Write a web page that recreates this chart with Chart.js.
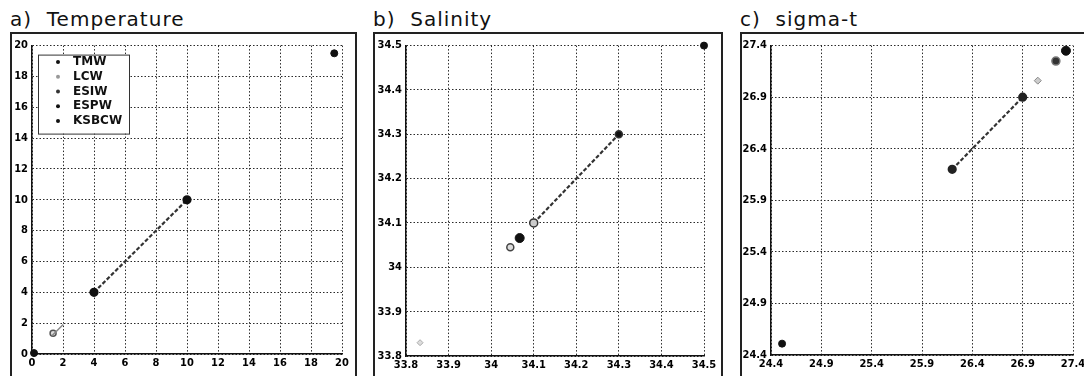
<!DOCTYPE html>
<html>
<head>
<meta charset="utf-8">
<script src="https://cdn.jsdelivr.net/npm/chart.js"></script>
<style>
body { margin: 0; width: 1084px; height: 376px; overflow: hidden; background: #fff; position: relative; font-family: "DejaVu Sans", sans-serif; }
.title { position: absolute; top: 9px; font-size: 20px; line-height: 20px; letter-spacing: 1px; color: #111; white-space: pre; }
.frame { position: absolute; top: 32px; height: 360px; box-sizing: border-box; border: 2px solid #222; }
canvas { position: absolute; }
</style>
</head>
<body>
<div class="title" style="left:10px">a)  Temperature</div>
<div class="title" style="left:373px">b)  Salinity</div>
<div class="title" style="left:740px">c)  sigma-t</div>
<div class="frame" style="left:10px; width:347px"></div>
<div class="frame" style="left:373px; width:350px"></div>
<div class="frame" style="left:740px; width:360px"></div>
<canvas id="tempChart" width="342" height="341" style="left:12px; top:35px"></canvas>
<canvas id="salChart" width="345" height="341" style="left:375px; top:35px"></canvas>
<canvas id="sigChart" width="360" height="341" style="left:742px; top:35px"></canvas>
<script>
var waterMasses = ["TMW", "LCW", "ESIW", "ESPW", "KSBCW"];

// tick labels for each panel
var tempTicks = [0, 2, 4, 6, 8, 10, 12, 14, 16, 18, 20];
var salTicks = [33.8, 33.9, 34.0, 34.1, 34.2, 34.3, 34.4, 34.5];
var sigTicks = [24.4, 24.9, 25.4, 25.9, 26.4, 26.9, 27.4];

// temperature (x = observed, y = model)
var tempTMW = [{x: 19.5, y: 19.5}];
var tempLCW = [{x: 1.65, y: 1.55}];
var tempESIW = [{x: 1.36, y: 1.35}];
var tempESPW = [{x: 0.13, y: 0.06}];
var tempKSBCW = [{x: 4, y: 4}, {x: 10, y: 10}];

// salinity
var salTMW = [{x: 34.5, y: 34.5}];
var salLCW = [{x: 33.833, y: 33.83}];
var salESIW = [{x: 34.045, y: 34.045}];
var salESPW = [{x: 34.067, y: 34.066}];
var salKSBCW = [{x: 34.1, y: 34.1}, {x: 34.3, y: 34.3}];

// sigma-t
var sigTMW = [{x: 24.51, y: 24.51}];
var sigLCW = [{x: 27.05, y: 27.06}];
var sigESIW = [{x: 27.23, y: 27.25}];
var sigESPW = [{x: 27.33, y: 27.35}];
var sigKSBCW = [{x: 26.2, y: 26.2}, {x: 26.9, y: 26.9}];

var tickFont = {family: "'DejaVu Sans Condensed', 'DejaVu Sans', sans-serif", size: 11, weight: "bold"};

function fmt(v) {
  return String(Number(v.toFixed(1)));
}

function axis(ticks, isX, size, pad) {
  return {
    type: "linear",
    min: ticks[0],
    max: ticks[ticks.length - 1],
    afterBuildTicks: function(s) {
      s.ticks = ticks.map(function(v) { return {value: v}; });
    },
    afterFit: function(s) {
      if (isX) s.height = size; else s.width = size;
    },
    ticks: {
      padding: pad,
      color: "#000",
      font: tickFont,
      autoSkip: false,
      maxRotation: 0,
      callback: function(v) { return fmt(v); }
    },
    grid: {color: "#2a2a2a", lineWidth: 1, drawTicks: false},
    border: {display: true, color: "#111", width: 1.5, dash: [1.5, 2]}
  };
}

function sets(tmw, lcw, esiw, espw, ksbcw, looks) {
  var base = [
    {label: waterMasses[0], data: tmw},
    {label: waterMasses[1], data: lcw},
    {label: waterMasses[2], data: esiw},
    {label: waterMasses[3], data: espw},
    {label: waterMasses[4], data: ksbcw}
  ];
  return base.map(function(d, i) {
    return Object.assign({clip: false, showLine: false}, d, looks[i]);
  });
}

var ksbcwLine = {showLine: true, borderColor: "#333", borderWidth: 2.2, borderDash: [4, 2]};

// draws the small legend box in the upper left of the plot area
var insideLegend = {
  id: "insideLegend",
  afterDraw: function(chart) {
    var ctx = chart.ctx, a = chart.chartArea;
    var x = a.left + 6, y = a.top + 9, w = 91, h = 79;
    var dots = ["#111", "#999", "#333", "#111", "#111"];
    ctx.save();
    ctx.fillStyle = "#fff";
    ctx.fillRect(x, y, w, h);
    ctx.strokeStyle = "#333";
    ctx.lineWidth = 1;
    ctx.strokeRect(x + 0.5, y + 0.5, w, h);
    ctx.font = "bold 12px 'DejaVu Sans'";
    ctx.textBaseline = "middle";
    chart.data.datasets.forEach(function(ds, i) {
      var cy = y + 7.5 + i * 14.7;
      ctx.fillStyle = dots[i];
      ctx.beginPath();
      ctx.arc(x + 20, cy, 2, 0, Math.PI * 2);
      ctx.fill();
      ctx.fillStyle = "#111";
      ctx.fillText(ds.label, x + 35, cy);
    });
    ctx.restore();
  }
};

function makeChart(id, datasets, ticks, yw, ypad, xh, padTop, padRight, plugins) {
  return new Chart(id, {
    type: "scatter",
    data: {datasets: datasets},
    options: {
      responsive: false,
      animation: false,
      layout: {padding: {left: 0, top: padTop, right: padRight, bottom: 0}},
      plugins: {legend: {display: false}, tooltip: {enabled: false}},
      scales: {
        x: axis(ticks, true, xh, 3),
        y: axis(ticks, false, yw, ypad)
      }
    },
    plugins: plugins || []
  });
}

makeChart("tempChart", sets(tempTMW, tempLCW, tempESIW, tempESPW, tempKSBCW, [
  {pointRadius: 3.5, backgroundColor: "#111", borderColor: "#111"},
  {pointStyle: "line", rotation: -45, pointRadius: 8, borderColor: "#888", borderWidth: 1.5},
  {pointRadius: 3, backgroundColor: "#ddd", borderColor: "#555", borderWidth: 1.5},
  {pointRadius: 3.5, backgroundColor: "#111", borderColor: "#111"},
  Object.assign({pointRadius: 3.5, backgroundColor: "#111", pointBorderColor: "#111"}, ksbcwLine)
]), tempTicks, 20, 4, 22, 8, 12, [insideLegend]);

makeChart("salChart", sets(salTMW, salLCW, salESIW, salESPW, salKSBCW, [
  {pointRadius: 3.5, backgroundColor: "#111", borderColor: "#111"},
  {pointStyle: "rectRot", pointRadius: 3, backgroundColor: "#ddd", borderColor: "#aaa", borderWidth: 1},
  {pointRadius: 3.5, backgroundColor: "#ddd", borderColor: "#444", borderWidth: 1.5},
  {pointRadius: 4.5, backgroundColor: "#111", borderColor: "#111"},
  Object.assign({pointRadius: [4, 3.5], backgroundColor: ["#ccc", "#111"], pointBorderColor: "#333", pointBorderWidth: 1.5}, ksbcwLine)
]), salTicks, 31, 4, 20, 8, 16);

makeChart("sigChart", sets(sigTMW, sigLCW, sigESIW, sigESPW, sigKSBCW, [
  {pointRadius: 3.5, backgroundColor: "#111", borderColor: "#111"},
  {pointStyle: "rectRot", pointRadius: 3.5, backgroundColor: "#ccc", borderColor: "#888", borderWidth: 1},
  {pointRadius: 4, backgroundColor: "#333", borderColor: "#777", borderWidth: 1.5},
  {pointRadius: 4.5, backgroundColor: "#111", borderColor: "#111"},
  Object.assign({pointRadius: 3.5, backgroundColor: "#222", pointBorderColor: "#222"}, ksbcwLine)
]), sigTicks, 29, 4, 21, 9, 29);
</script>
</body>
</html>
